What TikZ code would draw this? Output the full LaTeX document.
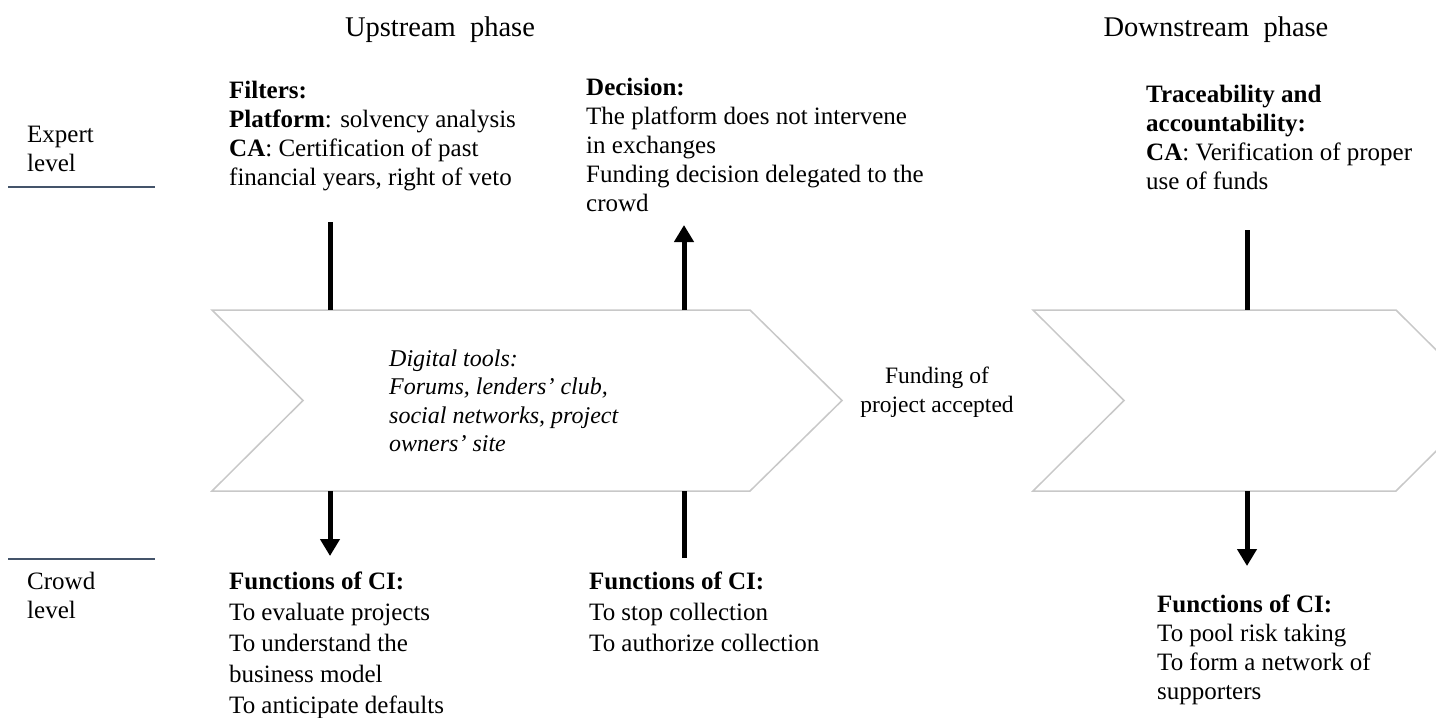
\documentclass[tikz,border=0pt]{standalone}
\usepackage{fontspec}
\setmainfont{Liberation Serif}
\usetikzlibrary{arrows.meta}
\definecolor{chevgray}{HTML}{C8C8C8}
\definecolor{levelline}{HTML}{44546A}
\begin{document}
\begin{tikzpicture}[x=1pt,y=-1pt,
  txt/.style={font=\fontsize{25}{29}\selectfont, align=left, anchor=north west, inner sep=0pt},
  wtxt/.style={font=\fontsize{25}{31}\selectfont, align=left, anchor=north west, inner sep=0pt},
  itxt/.style={font=\fontsize{24}{28.5}\selectfont\itshape, align=left, anchor=north west, inner sep=0pt},
  ctxt/.style={font=\fontsize{23.5}{29}\selectfont, align=center, anchor=north, inner sep=0pt},
  htxt/.style={font=\fontsize{28.5}{34}\selectfont, align=center, anchor=north, inner sep=0pt},
  chev/.style={draw=chevgray, line width=1.5pt, fill=white, line join=miter},
  link/.style={line width=5pt},
  linkarrow/.style={line width=5pt, -{Triangle[length=17pt,width=19pt]}},
  levelrule/.style={draw=levelline, line width=2pt}]
\useasboundingbox (0,0) rectangle (1436,718);

% headers
\node[htxt] (up) at (440,12) {\strut Upstream\ \ phase};
\node[htxt] (down) at (1216,12) {\strut Downstream\ \ phase};

% level labels
\node[txt] (expert) at (27,122) {\strut Expert\\level};
\node[txt] (crowd) at (27,569) {\strut Crowd\\level};
\coordinate (e1) at (8,187); \coordinate (e2) at (155,187);
\coordinate (k1) at (8,559); \coordinate (k2) at (155,559);
\draw[levelrule] (e1) -- (e2);
\draw[levelrule] (k1) -- (k2);

% chevrons
\draw[chev] (212,310) -- (750,310) -- (842,400.5) -- (750,491) -- (212,491) -- (303,400.5) -- cycle;
\draw[chev] (1033,310) -- (1396,310) -- (1487,400.5) -- (1396,491) -- (1033,491) -- (1124,400.5) -- cycle;

% text blocks
\node[txt] (filters) at (229,78) {\strut\textbf{Filters:}\\
  \textbf{Platform}: solvency analysis\\
  \textbf{CA}: Certification of past\\
  financial years, right of veto};
\node[txt] (decision) at (586,75) {\strut\textbf{Decision:}\\
  The platform does not intervene\\
  in exchanges\\
  Funding decision delegated to the\\
  crowd};
\node[txt] (trace) at (1146,82) {\strut\textbf{Traceability and}\\
  \textbf{accountability:}\\
  \textbf{CA}: Verification of proper\\
  use of funds};
\node[itxt] (tools) at (389,346) {\strut Digital tools:\\
  Forums, lenders’ club,\\
  social networks, project\\
  owners’ site};
\node[ctxt] (accepted) at (937,363) {\strut Funding of\\project accepted};
\node[wtxt] (ci1) at (229,568) {\strut\textbf{Functions of CI:}\\
  To evaluate projects\\
  To understand the\\
  business model\\
  To anticipate defaults};
\node[wtxt] (ci2) at (589,568) {\strut\textbf{Functions of CI:}\\
  To stop collection\\
  To authorize collection};
\node[txt] (ci3) at (1157,592) {\strut\textbf{Functions of CI:}\\
  To pool risk taking\\
  To form a network of\\
  supporters};

% connectors
\coordinate (a1s) at (330,222); \coordinate (a1e) at (330,310);
\coordinate (a2s) at (330,491); \coordinate (a2e) at (330,556);
\coordinate (a3s) at (684,310); \coordinate (a3e) at (684,225);
\coordinate (a4s) at (684,558); \coordinate (a4e) at (684,491);
\coordinate (a5s) at (1247,230); \coordinate (a5e) at (1247,310);
\coordinate (a6s) at (1247,491); \coordinate (a6e) at (1247,566);
\draw[link] (a1s) -- (a1e);
\draw[linkarrow] (a2s) -- (a2e);
\draw[linkarrow] (a3s) -- (a3e);
\draw[link] (a4s) -- (a4e);
\draw[link] (a5s) -- (a5e);
\draw[linkarrow] (a6s) -- (a6e);
\end{tikzpicture}
\end{document}
